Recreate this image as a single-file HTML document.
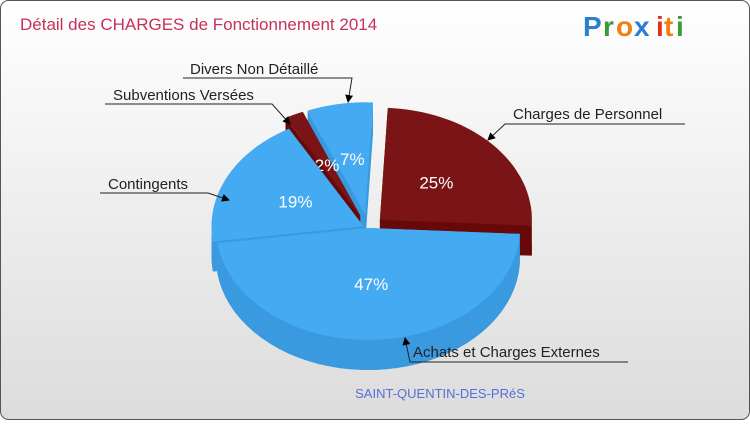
<!DOCTYPE html>
<html><head><meta charset="utf-8"><style>
body{margin:0;width:750px;height:420px;overflow:hidden;font-family:"Liberation Sans",sans-serif}
</style></head><body>
<svg id="chart" width="750" height="420" viewBox="0 0 750 420" xmlns="http://www.w3.org/2000/svg">
<defs>
<linearGradient id="bg" x1="0" y1="0" x2="0" y2="1"><stop offset="0" stop-color="#ffffff"/><stop offset="1" stop-color="#dcdcdc"/></linearGradient>
<marker id="arr" markerWidth="8" markerHeight="8" refX="7" refY="4" orient="auto" markerUnits="userSpaceOnUse"><path d="M0,0 L8,4 L0,8 z" fill="#000"/></marker>
</defs>
<rect x="0.5" y="0.5" width="749" height="419" rx="8" fill="url(#bg)" stroke="#555"/>
<text x="20" y="30" font-size="17" fill="#c8305a">Détail des CHARGES de Fonctionnement 2014</text>
<g font-family="Liberation Sans, sans-serif" font-size="28" font-weight="bold">
<text x="583" y="36" fill="#2a7fd0">P</text><text x="603" y="36" fill="#3a9a3a">r</text><text x="616" y="36" fill="#f08010">o</text><text x="634" y="36" fill="#2a7fd0">x</text><text x="656" y="36" fill="#e03020">i</text><text x="664" y="36" fill="#f08010">t</text><text x="676" y="36" fill="#3a9a3a">i</text>
</g>
<g id="pie"></g>
<g id="labels" font-size="15" fill="#222"></g>
<text x="440" y="398" font-size="13" fill="#5a6ed8" text-anchor="middle">SAINT-QUENTIN-DES-PRéS</text>
</svg>
<script>
const categories=["Charges de Personnel","Achats et Charges Externes","Contingents","Subventions Versées","Divers Non Détaillé"];
const values=[25,47,19,2,7];
const colors=["red","blue","blue","red","blue"];
const NS="http://www.w3.org/2000/svg";
const cx=368,cy=228,rx=152,ry=112,depth=30;
const explode=[16,0,5,18,18];
const pal={red:["#7b1416","#680909"],blue:["#44aaf2","#3a9ae0"]};
const total=values.reduce((a,b)=>a+b,0);
function pt(ox,oy,a,dy){return [ox+rx*Math.cos(a),oy+ry*Math.sin(a)+(dy||0)];}
function arcPts(ox,oy,a0,a1,dy){const n=40,r=[];for(let i=0;i<=n;i++){r.push(pt(ox,oy,a0+(a1-a0)*i/n,dy));}return r;}
function P(pts){return pts.map((p,i)=>(i?"L":"M")+p[0].toFixed(1)+","+p[1].toFixed(1)).join("")+"Z";}
const slices=[];let a=-87*Math.PI/180;
values.forEach((v,i)=>{const s=v/total*2*Math.PI;const m=a+s/2;slices.push({i,a0:a,a1:a+s,m,ox:cx+explode[i]*Math.cos(m),oy:cy+explode[i]*Math.sin(m)*0.77});a+=s;});
const order=slices.slice().sort((p,q)=>Math.sin(p.m)-Math.sin(q.m));
const g=document.getElementById("pie");
order.forEach(s=>{
 const c=pal[colors[s.i]];
 const grp=document.createElementNS(NS,"g");
 
 
 const add=(d,f)=>{const p=document.createElementNS(NS,"path");p.setAttribute("d",d);p.setAttribute("fill",f);grp.appendChild(p);};
 add(P([[s.ox,s.oy+depth]].concat(arcPts(s.ox,s.oy,s.a0,s.a1,depth))),c[1]);
 [s.a0,s.a1].forEach(ang=>{const e=pt(s.ox,s.oy,ang);add(P([[s.ox,s.oy],e,[e[0],e[1]+depth],[s.ox,s.oy+depth]]),c[1]);});
 const lo=Math.max(s.a0,0),hi=Math.min(s.a1,Math.PI);
 if(hi>lo){const top=arcPts(s.ox,s.oy,lo,hi,0),bot=arcPts(s.ox,s.oy,hi,lo,depth);add(P(top.concat(bot)),c[1]);}
 add(P([[s.ox,s.oy]].concat(arcPts(s.ox,s.oy,s.a0,s.a1,0))),c[0]);
 const lp=[s.ox+rx*0.5*Math.cos(s.m),s.oy+ry*0.5*Math.sin(s.m)];
 const t=document.createElementNS(NS,"text");t.setAttribute("x",lp[0]);t.setAttribute("y",lp[1]+6);t.setAttribute("text-anchor","middle");t.setAttribute("font-size","17");t.setAttribute("fill","#fff");
 
 
 t.textContent=values[s.i]+"%";grp.appendChild(t);
 g.appendChild(grp);
});
const L=document.getElementById("labels");
const lab=[[0,513,119,505,685,124,488,140],[4,190,74,183,352,78,348,102],[3,113,100,105,272,104,290,124],[2,108,189,100,208,193,229,200],[1,413,357,405,628,362,405,338]];
lab.forEach(l=>{
 const t=document.createElementNS(NS,"text");t.setAttribute("x",l[1]);t.setAttribute("y",l[2]);t.textContent=categories[l[0]];
 
 
 L.appendChild(t);
 const p=document.createElementNS(NS,"path");
 let d;
 if(l[0]===0)d=`M${l[4]},${l[5]}L${l[3]},${l[5]}L${l[6]},${l[7]}`;
 else if(l[0]===1)d=`M${l[4]},${l[5]}L${l[3]+5},${l[5]}L${l[6]},${l[7]}`;
 else d=`M${l[3]},${l[5]}L${l[4]},${l[5]}L${l[6]},${l[7]}`;
 p.setAttribute("d",d);
 p.setAttribute("fill","none");p.setAttribute("stroke","#222");p.setAttribute("marker-end","url(#arr)");
 
 
 L.appendChild(p);
});
</script>
</body></html>
